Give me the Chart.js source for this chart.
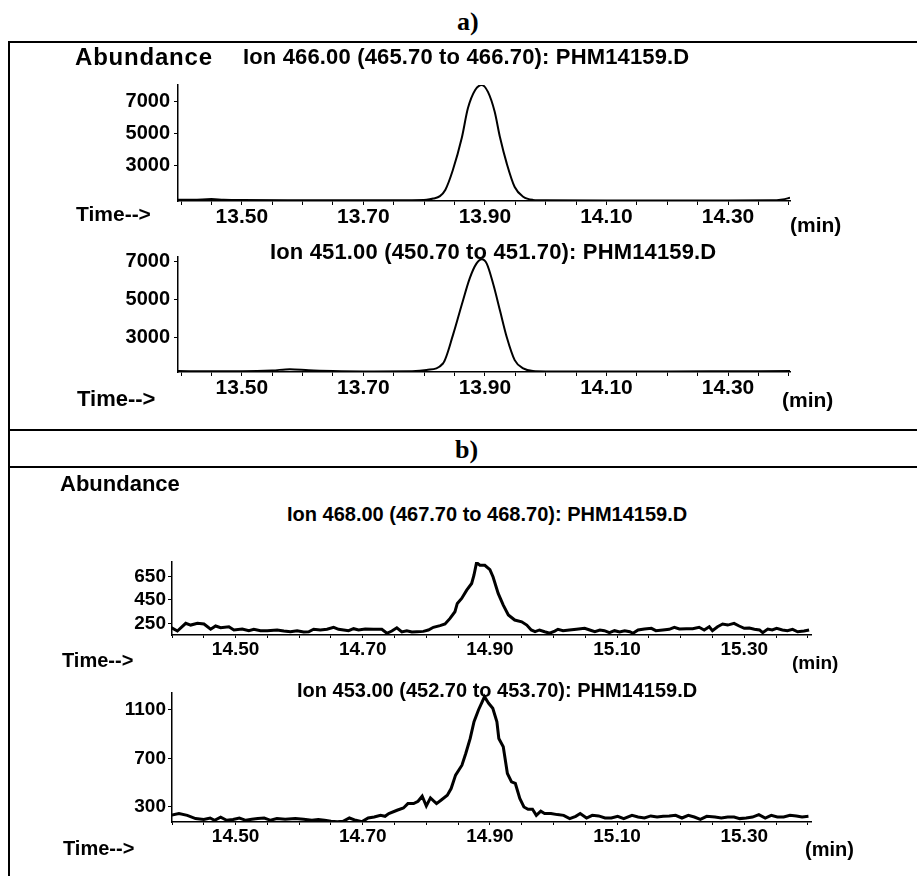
<!DOCTYPE html>
<html>
<head>
<meta charset="utf-8">
<script src="https://cdn.jsdelivr.net/npm/chart.js@4.4.0/dist/chart.umd.min.js"></script>
<style>
    body { margin: 0; background: #fff; }
    #page { position: relative; width: 917px; height: 876px; overflow: hidden; background: #fff;
        font-family: "Liberation Sans", Arial, sans-serif; font-weight: bold; color: #000; }
    .t { position: absolute; line-height: 1; white-space: nowrap; }
    .serif { font-family: "Liberation Serif", "Times New Roman", serif; }
    .rule { position: absolute; background: #000; }
    canvas { position: absolute; left: 0; }
</style>
</head>
<body>
<div id="page">
    <canvas id="chartA1"></canvas>
    <canvas id="chartA2"></canvas>
    <canvas id="chartB1"></canvas>
    <canvas id="chartB2"></canvas>

    <div class="rule" style="left:8px;top:41px;width:909px;height:2px"></div>
    <div class="rule" style="left:8px;top:41px;width:2px;height:835px"></div>
    <div class="rule" style="left:8px;top:429px;width:909px;height:2px"></div>
    <div class="rule" style="left:8px;top:466px;width:909px;height:2px"></div>

    <div class="t serif" style="left:457px;top:9px;font-size:26px">a)</div>
    <div class="t serif" style="left:455px;top:437px;font-size:26px">b)</div>

    <div class="t" style="left:75px;top:45px;font-size:24px;letter-spacing:0.8px">Abundance</div>
    <div class="t" id="titleA1" style="left:243px;top:46px;font-size:22px;letter-spacing:0.15px"></div>
    <div class="t" style="left:76px;top:203px;font-size:21px">Time--&gt;</div>
    <div class="t" style="left:790px;top:214px;font-size:21px">(min)</div>

    <div class="t" id="titleA2" style="left:270px;top:241px;font-size:22px;letter-spacing:0.15px"></div>
    <div class="t" style="left:77px;top:388px;font-size:22px">Time--&gt;</div>
    <div class="t" style="left:782px;top:389px;font-size:21px">(min)</div>

    <div class="t" style="left:60px;top:473px;font-size:22px">Abundance</div>
    <div class="t" id="titleB1" style="left:287px;top:504px;font-size:20px"></div>
    <div class="t" style="left:62px;top:650px;font-size:20px">Time--&gt;</div>
    <div class="t" style="left:792px;top:653px;font-size:19px">(min)</div>

    <div class="t" id="titleB2" style="left:297px;top:680px;font-size:20px"></div>
    <div class="t" style="left:63px;top:838px;font-size:20px">Time--&gt;</div>
    <div class="t" style="left:805px;top:839px;font-size:20px">(min)</div>
</div>

<script>
// ---- data ----
const titleA1 = 'Ion 466.00 (465.70 to 466.70): PHM14159.D';
const titleA2 = 'Ion 451.00 (450.70 to 451.70): PHM14159.D';
const titleB1 = 'Ion 468.00 (467.70 to 468.70): PHM14159.D';
const titleB2 = 'Ion 453.00 (452.70 to 453.70): PHM14159.D';

const xTicksA = [13.50, 13.70, 13.90, 14.10, 14.30];
const xTicksB = [14.50, 14.70, 14.90, 15.10, 15.30];
const yTicksA1 = [3000, 5000, 7000];
const yTicksA2 = [3000, 5000, 7000];
const yTicksB1 = [250, 450, 650];
const yTicksB2 = [300, 700, 1100];

const timeA1 = [13.395, 13.42, 13.45, 13.47, 13.50, 13.60, 13.70, 13.78, 13.804, 13.815, 13.826, 13.835,
    13.847, 13.862, 13.872, 13.884, 13.895, 13.905, 13.916, 13.925, 13.936, 13.949, 13.963, 13.979,
    14.00, 14.10, 14.20, 14.30, 14.37, 14.39, 14.402];
const abundA1 = [880, 870, 920, 880, 860, 850, 850, 850, 870, 950, 1100, 1500,
    2690, 4720, 6550, 7690, 8000, 7570, 6350, 4720, 3120, 1670, 1060, 870,
    840, 830, 830, 830, 840, 900, 1000];

const timeA2 = [13.395, 13.45, 13.50, 13.55, 13.579, 13.61, 13.65, 13.70, 13.78, 13.804, 13.831, 13.848,
    13.862, 13.875, 13.886, 13.895, 13.903, 13.914, 13.925, 13.936, 13.949, 13.963, 13.979, 14.00,
    14.10, 14.20, 14.30, 14.402];
const abundA2 = [1200, 1190, 1190, 1230, 1300, 1240, 1200, 1180, 1190, 1254, 1600, 3170,
    4730, 6120, 6900, 7130, 6900, 5775, 4380, 2990, 1780, 1340, 1200, 1180,
    1180, 1180, 1190, 1200];

const timeB1 = [14.398, 14.4085, 14.4216, 14.4294, 14.440, 14.4503, 14.4608, 14.4686, 14.4765, 14.4895,
    14.4973, 14.5105, 14.5209, 14.5287, 14.5392, 14.5497, 14.5654, 14.5758, 14.5863, 14.5968,
    14.6071, 14.615, 14.6228, 14.6333, 14.6438, 14.6542, 14.662, 14.670, 14.6777, 14.6856,
    14.6934, 14.7039, 14.7169, 14.730, 14.738, 14.7458, 14.7536, 14.7615, 14.7693, 14.7772,
    14.785, 14.7954, 14.8032, 14.8111, 14.8216, 14.8294, 14.8373, 14.845, 14.8487, 14.8556,
    14.8635, 14.8713, 14.8749, 14.879, 14.8843, 14.892, 14.900, 14.905, 14.913, 14.921,
    14.929, 14.939, 14.950, 14.958, 14.965, 14.971, 14.978, 14.986, 14.994, 15.002,
    15.007, 15.015, 15.025, 15.036, 15.049, 15.057, 15.065, 15.073, 15.080, 15.088,
    15.096, 15.104, 15.112, 15.120, 15.125, 15.133, 15.143, 15.154, 15.161, 15.172,
    15.182, 15.190, 15.198, 15.209, 15.219, 15.229, 15.237, 15.245, 15.250, 15.258,
    15.266, 15.274, 15.284, 15.292, 15.300, 15.308, 15.316, 15.324, 15.329, 15.337,
    15.344, 15.351, 15.360, 15.368, 15.376, 15.384, 15.394, 15.402];
const abundB1 = [216, 184, 250, 235, 250, 244, 199, 227, 212, 221,
    193, 201, 187, 199, 187, 187, 193, 184, 178, 187,
    176, 178, 199, 193, 199, 216, 199, 193, 187, 204,
    193, 201, 199, 199, 165, 184, 212, 176, 187, 176,
    178, 181, 193, 216, 230, 244, 292, 349, 420, 463,
    534, 591, 662, 770, 747, 747, 710, 647, 506, 406,
    321, 278, 263, 235, 193, 178, 193, 178, 165, 184,
    199, 187, 193, 199, 207, 193, 178, 193, 187, 170,
    187, 176, 187, 178, 165, 193, 201, 207, 187, 193,
    199, 216, 201, 204, 204, 216, 193, 221, 187, 221,
    244, 235, 250, 227, 207, 210, 199, 193, 170, 201,
    193, 207, 193, 187, 199, 178, 184, 193];

const timeB2 = [14.398, 14.411, 14.424, 14.437, 14.450, 14.460, 14.467, 14.4765, 14.486, 14.496,
    14.506, 14.516, 14.5255, 14.535, 14.545, 14.555, 14.565, 14.578, 14.594, 14.607,
    14.620, 14.630, 14.640, 14.650, 14.660, 14.669, 14.679, 14.689, 14.699, 14.7085,
    14.718, 14.728, 14.735, 14.741, 14.754, 14.764, 14.771, 14.780, 14.787, 14.7935,
    14.800, 14.8065, 14.816, 14.823, 14.833, 14.839, 14.846, 14.856, 14.862, 14.869,
    14.875, 14.882, 14.888, 14.8915, 14.898, 14.9045, 14.911, 14.914, 14.921, 14.9275,
    14.934, 14.940, 14.947, 14.9535, 14.960, 14.967, 14.973, 14.980, 14.986, 14.996,
    15.006, 15.016, 15.0255, 15.035, 15.042, 15.052, 15.061, 15.071, 15.081, 15.091,
    15.101, 15.1105, 15.1235, 15.133, 15.143, 15.153, 15.163, 15.1725, 15.182, 15.192,
    15.202, 15.212, 15.2215, 15.231, 15.241, 15.254, 15.264, 15.274, 15.284, 15.293,
    15.303, 15.313, 15.323, 15.333, 15.3425, 15.352, 15.362, 15.372, 15.382, 15.391,
    15.401];
const abundB2 = [230, 245, 230, 203, 195, 208, 189, 214, 189, 195,
    208, 189, 197, 203, 208, 189, 203, 197, 203, 197,
    189, 195, 189, 181, 178, 181, 208, 189, 178, 208,
    216, 230, 222, 245, 272, 291, 327, 327, 346, 388,
    307, 374, 327, 355, 396, 451, 562, 644, 741, 865,
    1003, 1100, 1169, 1210, 1155, 1114, 1003, 865, 796, 576,
    506, 493, 369, 299, 280, 280, 230, 264, 245, 245,
    236, 230, 203, 222, 245, 208, 230, 225, 208, 208,
    222, 203, 230, 216, 208, 225, 216, 222, 225, 230,
    208, 230, 216, 197, 222, 216, 208, 216, 216, 203,
    208, 216, 236, 208, 230, 216, 216, 230, 225, 216,
    222];

Chart.defaults.font.family = '"Liberation Sans", Arial, sans-serif';
Chart.defaults.font.weight = 'bold';
Chart.defaults.color = '#000';

document.getElementById('titleA1').textContent = titleA1;
document.getElementById('titleA2').textContent = titleA2;
document.getElementById('titleB1').textContent = titleB1;
document.getElementById('titleB2').textContent = titleB2;

const PAGE_W = 917;
const Y_W = 70;   // fixed width of the y axis box
const X_H = 34;   // fixed height of the x axis box
const PAD_T = 14;

function makeChart(id, box, times, values, xMin, xMax, yMin, yMax, xTicks, yTicks, style) {
    const canvas = document.getElementById(id);
    const top = box.top - PAD_T;
    const h = box.bottom - top + X_H;
    canvas.width = PAGE_W;
    canvas.height = h;
    canvas.style.top = top + 'px';
    canvas.style.width = PAGE_W + 'px';
    canvas.style.height = h + 'px';

    const points = times.map(function (t, i) { return { x: t, y: values[i] }; });

    return new Chart(canvas.getContext('2d'), {
        type: 'line',
        data: {
            datasets: [{
                data: points,
                borderColor: '#000',
                borderWidth: style.lineWidth,
                pointRadius: 0,
                cubicInterpolationMode: style.smooth ? 'monotone' : 'default',
                tension: 0,
                fill: false
            }]
        },
        options: {
            responsive: false,
            animation: false,
            devicePixelRatio: 1,
            layout: {
                padding: { left: box.left - Y_W, right: PAGE_W - box.right, top: PAD_T, bottom: 0 }
            },
            plugins: {
                legend: { display: false },
                tooltip: { enabled: false }
            },
            scales: {
                x: {
                    type: 'linear',
                    min: xMin,
                    max: xMax,
                    afterFit: function (scale) { scale.height = X_H; },
                    afterBuildTicks: function (scale) {
                        const ticks = [];
                        for (let v = Math.ceil(xMin / 0.05) * 0.05; v <= xMax + 1e-9; v += 0.05) {
                            ticks.push({ value: +v.toFixed(3) });
                        }
                        scale.ticks = ticks;
                    },
                    ticks: {
                        autoSkip: false,
                        maxRotation: 0,
                        padding: 0,
                        font: { size: style.xFont, weight: 'bold' },
                        color: '#000',
                        callback: function (value) {
                            const major = xTicks.some(function (m) { return Math.abs(m - value) < 1e-6; });
                            return major ? Number(value).toFixed(2) : '';
                        }
                    },
                    grid: { drawOnChartArea: false, drawTicks: true, tickLength: style.tickLen, color: '#000', lineWidth: 1 },
                    border: { display: true, color: '#000', width: 1.5 }
                },
                y: {
                    type: 'linear',
                    min: yMin,
                    max: yMax,
                    afterFit: function (scale) { scale.width = Y_W; },
                    afterBuildTicks: function (scale) {
                        scale.ticks = yTicks.map(function (v) { return { value: v }; });
                    },
                    ticks: {
                        padding: style.yPad,
                        font: { size: style.yFont, weight: 'bold' },
                        color: '#000',
                        callback: function (value) { return String(value); }
                    },
                    grid: { drawOnChartArea: false, drawTicks: true, tickLength: 4, color: '#000', lineWidth: 1 },
                    border: { display: true, color: '#000', width: 1.5 }
                }
            }
        }
    });
}

const styleA = { lineWidth: 2, smooth: true, xFont: 21, yFont: 20, yPad: 4, tickLen: 4 };
const styleB = { lineWidth: 3, smooth: false, xFont: 19, yFont: 19, yPad: 2, tickLen: 3 };

makeChart('chartA1', { left: 178, top: 83, right: 790, bottom: 201 }, timeA1, abundA1,
    13.395, 14.402, 800, 8000, xTicksA, yTicksA1, styleA);
makeChart('chartA2', { left: 178, top: 255, right: 790, bottom: 372 }, timeA2, abundA2,
    13.395, 14.402, 1150, 7250, xTicksA, yTicksA2, styleA);
makeChart('chartB1', { left: 172, top: 562, right: 811, bottom: 635 }, timeB1, abundB1,
    14.40, 15.405, 150, 775, xTicksB, yTicksB1, styleB);
makeChart('chartB2', { left: 172, top: 693, right: 811, bottom: 822 }, timeB2, abundB2,
    14.40, 15.405, 175, 1240, xTicksB, yTicksB2, styleB);
</script>
</body>
</html>
